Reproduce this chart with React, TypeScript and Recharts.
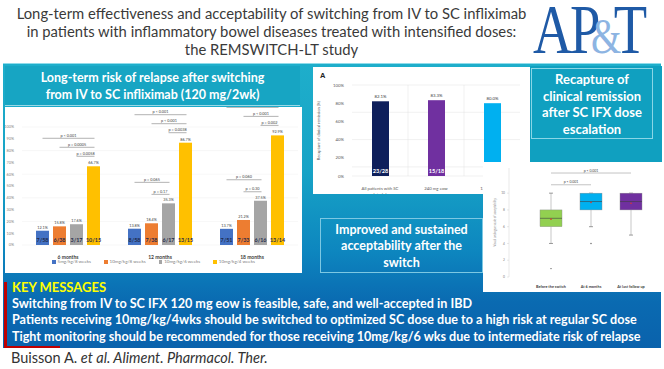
import React from 'react';
import {
  BarChart, Bar, XAxis, YAxis, CartesianGrid, LabelList, Cell,
  ComposedChart, Scatter, ReferenceLine, Label,
} from 'recharts';

// ---- left panel: relapse after switching ----
const relapseGroups = ['6 months', '12 months', '18 months'];
const relapseNames = ['5mg/kg/8 weeks', '10mg/kg/8 weeks', '10mg/kg/6 weeks', '10mg/kg/4 weeks'];
const relapse5q8 = [12.1, 13.8, 13.7];
const relapse10q8 = [15.8, 18.4, 21.2];
const relapse10q6 = [17.6, 35.3, 37.5];
const relapse10q4 = [66.7, 86.7, 92.9];
const frac5q8 = ['7/58', '8/58', '7/51'];
const frac10q8 = ['6/38', '7/38', '7/33'];
const frac10q6 = ['3/17', '6/17', '6/16'];
const frac10q4 = ['10/15', '13/15', '13/14'];
// p values vs 10mg/kg/4 weeks (from 5q8, 10q8, 10q6)
const pVsQ4 = [
  ['p < 0.001', 'p = 0.0005', 'p = 0.0058'],
  ['p < 0.001', 'p < 0.001', 'p = 0.0038'],
  ['p < 0.001', 'p < 0.001', 'p = 0.002'],
];
// p values vs 10mg/kg/6 weeks (from 5q8, 10q8)
const pVsQ6 = [null, ['p = 0.065', 'p = 0.17'], ['p = 0.060', 'p = 0.30']];
const relapseTicks = [0, 10, 20, 30, 40, 50, 60, 70, 80, 90, 100];

// ---- middle panel: recapture of remission ----
const recapCats = ['All patients with SC escalated doses', '240 mg eow', '120 mg eow'];
const recapValues = [82.1, 83.3, 80.0];
const recapFrac = ['23/28', '15/18', '8/10'];

// ---- right panel: acceptability box plot ----
const boxCats = ['Before the switch', 'At 6 months', 'At last follow up'];
const boxMin = [4, 6, 5];
const boxQ1 = [6, 8, 8];
const boxMedian = [7, 9, 9];
const boxQ3 = [8, 10, 10];
const boxMax = [10, 10, 10];
const boxMean = [6.9, 8.9, 8.8];
const boxOutlier = [1, 4, null];
const boxTicks = [0, 1, 2, 3, 4, 5, 6, 7, 8, 9, 10];

const relapseColors = ['#4472C4', '#ED7D31', '#A5A5A5', '#FFC000'];
const recapColors = ['#0E1F5B', '#7030A0', '#00B0F0'];
const boxColors = ['#92D050', '#00B0F0', '#7030A0'];
const BAR_GAP = 4;

const relapseSeries = [relapse5q8, relapse10q8, relapse10q6, relapse10q4];
const relapseFrac = [frac5q8, frac10q8, frac10q6, frac10q4];
const relapseData = relapseGroups.map((g, i) => ({
  group: g, s0: relapse5q8[i], s1: relapse10q8[i], s2: relapse10q6[i], s3: relapse10q4[i],
}));
const recapData = recapCats.map((c, i) => ({ cat: c, value: recapValues[i], frac: recapFrac[i] }));
const boxData = boxCats.map((c, i) => ({
  cat: c, min: boxMin[i], q1: boxQ1[i], median: boxMedian[i], q3: boxQ3[i], max: boxMax[i],
  mean: boxMean[i], outlier: boxOutlier[i],
}));

const Bracket = ({ x1, x2, y, text }: any) => (
  <g>
    <line x1={x1} x2={x2} y1={y} y2={y} stroke="#7f7f7f" strokeWidth={0.6} />
    <text x={(x1 + x2) / 2} y={y - 1.5} textAnchor="middle" fontSize={3.8} fill="#404040">{text}</text>
  </g>
);

const relapseShape = (k: number) => (props: any) => {
  const { x, y, width, height, payload } = props;
  const i = relapseGroups.indexOf(payload.group);
  const extra: any[] = [];
  if (k === 3) {
    const base = y + height;
    const step = width + BAR_GAP;
    const cx = (s: number) => x + width / 2 - (3 - s) * step;
    const topOf = (s: number) => base - (height * relapseSeries[s][i]) / relapseSeries[3][i];
    pVsQ4[i].forEach((t, s) => {
      extra.push(<Bracket key={'a' + s} x1={cx(s)} x2={cx(3) + 1} y={y - 10 - (2 - s) * 9} text={t} />);
    });
    const low = pVsQ6[i];
    if (low) {
      low.forEach((t, s) => {
        extra.push(<Bracket key={'b' + s} x1={cx(s)} x2={cx(2) + 1} y={topOf(2) - 9 - (1 - s) * 12} text={t} />);
      });
    }
  }
  return (
    <g>
      <rect x={x} y={y} width={width} height={height} fill={relapseColors[k]} />
      <text x={x + width / 2} y={y + height - 3} textAnchor="middle" fontSize={5.4} fontWeight="bold" fill="#1F2A4A">
        {relapseFrac[k][i]}
      </text>
      {extra}
    </g>
  );
};

const GroupTick = (props: any) => {
  const { x, y, payload } = props;
  return (
    <text x={x} y={y + 6} textAnchor="middle" fontSize={5} fontWeight="bold" fill="#404040">
      {payload.value}
    </text>
  );
};

const recapShape = (props: any) => {
  const { x, y, width, height, payload } = props;
  const i = recapCats.indexOf(payload.cat);
  return (
    <g>
      <rect x={x} y={y} width={width} height={height} fill={recapColors[i]} />
      <text x={x + width / 2} y={y + height - 3} textAnchor="middle" fontSize={5.6} fontWeight="bold" fill="#ffffff">
        {payload.frac}
      </text>
    </g>
  );
};

// wrap long category names onto lines of about 22 characters
const wrapWords = (s: string, max: number) => {
  const lines: string[] = [];
  let cur = '';
  s.split(' ').forEach((w) => {
    if (cur && (cur + ' ' + w).length > max) { lines.push(cur); cur = w; } else { cur = cur ? cur + ' ' + w : w; }
  });
  if (cur) lines.push(cur);
  return lines;
};

const RecapTick = (props: any) => {
  const { x, y, payload } = props;
  return (
    <text x={x} y={y + 6} textAnchor="middle" fontSize={4.3} fill="#595959">
      {wrapWords(payload.value, 22).map((l, j) => (
        <tspan key={j} x={x} dy={j === 0 ? 0 : 5.5}>{l}</tspan>
      ))}
    </text>
  );
};

const boxShape = (props: any) => {
  const { x, y, width, height, payload } = props;
  const i = boxCats.indexOf(payload.cat);
  const top = Math.min(y, y + height);
  const bottom = Math.max(y, y + height);
  const py = (v: number) => top + ((bottom - top) * (payload.max - v)) / (payload.max - payload.min);
  const cx = x + width / 2;
  return (
    <g>
      <line x1={cx} x2={cx} y1={py(payload.max)} y2={py(payload.q3)} stroke="#8c8c8c" strokeWidth={0.5} />
      <line x1={cx} x2={cx} y1={py(payload.q1)} y2={py(payload.min)} stroke="#8c8c8c" strokeWidth={0.5} />
      <line x1={cx - 2} x2={cx + 2} y1={py(payload.max)} y2={py(payload.max)} stroke="#595959" strokeWidth={0.6} />
      <line x1={cx - 2} x2={cx + 2} y1={py(payload.min)} y2={py(payload.min)} stroke="#595959" strokeWidth={0.6} />
      <rect x={x} y={py(payload.q3)} width={width} height={py(payload.q1) - py(payload.q3)} fill={boxColors[i]} stroke="#8c8c8c" strokeWidth={0.4} />
      <line x1={x} x2={x + width} y1={py(payload.median)} y2={py(payload.median)} stroke="#404040" strokeWidth={0.6} />
    </g>
  );
};

const dotShape = (color: string, r: number, key: 'outlier' | 'mean') => (props: any) => {
  if (props.payload[key] == null) return <g />;
  return <circle cx={props.cx} cy={props.cy} r={r} fill={color} />;
};

const panelTitle: React.CSSProperties = {
  position: 'absolute', color: '#fff', fontWeight: 700, textAlign: 'center',
  fontFamily: 'Lato, sans-serif',
};

export default function App() {
  return (
    <div style={{
      position: 'absolute', left: 0, top: 0, width: 664, height: 369, overflow: 'hidden',
      background: '#fff', fontFamily: 'Lato, sans-serif',
    }}>
      {/* header */}
      <div style={{
        position: 'absolute', left: 0, top: 4, width: 543, textAlign: 'center', fontSize: 14.8,
        lineHeight: '18px', color: '#3a3a3a', whiteSpace: 'nowrap',
      }}>
        <div>Long-term effectiveness and acceptability of switching from IV to SC infliximab</div>
        <div>in patients with inflammatory bowel diseases treated with intensified doses:</div>
        <div>the REMSWITCH-LT study</div>
      </div>
      <div style={{
        position: 'absolute', left: 533, top: 2, fontFamily: '"Liberation Serif", serif', fontSize: 70,
        lineHeight: '56px', color: '#1F5AA6', whiteSpace: 'nowrap', letterSpacing: -3,
        transform: 'scaleX(0.78)', transformOrigin: 'left top',
      }}>
        A<span style={{ marginRight: -9 }}>P</span><span style={{ color: '#8DB4E2', fontSize: 50, marginRight: -7 }}>&amp;</span>T
      </div>

      {/* blue background */}
      <div style={{
        position: 'absolute', left: 3, top: 63, width: 658, height: 284,
        background: 'linear-gradient(180deg, #1eaecb 0%, #17a3c6 38%, #0d86bf 66%, #0a6ab1 84%, #0a62ac 100%)',
        borderTop: '1.5px solid #8fdbea',
      }} />

      {/* left panel */}
      <div style={{ ...panelTitle, left: 5, top: 66, width: 295, height: 40, background: '#17a5c3', fontSize: 12.5, lineHeight: '17px', paddingTop: 3, boxSizing: 'border-box', borderBottom: '1px solid #9ad9e6' }}>
        Long-term risk of relapse after switching<br />from IV to SC infliximab (120 mg/2wk)
      </div>
      <div style={{ position: 'absolute', left: 5, top: 107, width: 297, height: 166, background: '#fff' }}>
        <BarChart width={297} height={166} data={relapseData} margin={{ top: 20, right: 4, bottom: 17, left: 0 }}
          barSize={13} barGap={BAR_GAP}>
          <CartesianGrid vertical={false} stroke="#eeeeee" strokeWidth={0.5} />
          <XAxis dataKey="group" axisLine={false} tickLine={false} height={11} interval={0} tick={<GroupTick />} />
          <YAxis domain={[0, 100]} ticks={relapseTicks} width={17} axisLine={false} tickLine={false}
            tickFormatter={(v: number) => `${v}%`} tick={{ fontSize: 3.8, fill: '#7f7f7f' }} />
          {relapseNames.map((n, k) => (
            <Bar key={n} name={n} dataKey={'s' + k} fill={relapseColors[k]} shape={relapseShape(k)} isAnimationActive={false}>
              <LabelList dataKey={'s' + k} position="top" offset={2} fontSize={3.8} fill="#404040"
                formatter={(v: any) => `${Number(v).toFixed(1)}%`} />
            </Bar>
          ))}
        </BarChart>
        <div style={{
          position: 'absolute', left: 0, top: 152, width: 297, display: 'flex', justifyContent: 'center',
          gap: 13, fontSize: 4.5, lineHeight: '6px', color: '#7f7f7f',
        }}>
          {relapseNames.map((n, k) => (
            <span key={n} style={{ display: 'flex', alignItems: 'center', gap: 2 }}>
              <span style={{ width: 3.5, height: 3.5, background: relapseColors[k], display: 'inline-block' }} />
              {n}
            </span>
          ))}
        </div>
      </div>

      {/* middle panel */}
      <div style={{ position: 'absolute', left: 313, top: 67, width: 217, height: 127, background: '#fff' }}>
        <div style={{ position: 'absolute', left: 7, top: 4, fontSize: 7.5, fontWeight: 700, color: '#222', fontFamily: 'Arial, sans-serif' }}>A</div>
        <BarChart width={217} height={127} data={recapData} margin={{ top: 18, right: 10, bottom: 0, left: 0 }} barSize={17}>
          <CartesianGrid stroke="#e3e3e3" strokeWidth={0.5}
            verticalCoordinatesGenerator={({ offset }: any) => [offset.left + offset.width / 3, offset.left + (2 * offset.width) / 3]} />
          <XAxis dataKey="cat" axisLine={false} tickLine={false} height={18} interval={0} tick={<RecapTick />} />
          <YAxis domain={[0, 100]} ticks={relapseTicks} width={39} axisLine={false} tickLine={false}
            tickFormatter={(v: number) => `${v}%`} tick={{ fontSize: 4.3, fill: '#595959' }}>
            <Label value="Recapture of clinical remission (%)" angle={-90} position="insideLeft" offset={6} fontSize={4} fill="#595959" style={{ textAnchor: 'middle' }} />
          </YAxis>
          <Bar dataKey="value" shape={recapShape} isAnimationActive={false}>
            {recapData.map((d, i) => <Cell key={d.cat} fill={recapColors[i]} />)}
            <LabelList dataKey="value" position="top" offset={3} fontSize={4.3} fill="#404040"
              formatter={(v: any) => `${Number(v).toFixed(1)}%`} />
          </Bar>
        </BarChart>
      </div>

      {/* recapture title */}
      <div style={{ position: 'absolute', left: 530, top: 66, width: 132, height: 96, background: '#10a0c0' }} />
      <div style={{ ...panelTitle, left: 531, top: 68, width: 122, height: 71, border: '1px solid #8ad6e6', boxSizing: 'border-box', fontSize: 13, lineHeight: '16.5px', paddingTop: 2 }}>
        Recapture of<br />clinical remission<br />after SC IFX dose<br />escalation
      </div>

      {/* box plot panel */}
      <div style={{ position: 'absolute', left: 483, top: 162, width: 181, height: 130, background: '#fff' }}>
        <ComposedChart width={181} height={130} data={boxData} margin={{ top: 6, right: 13, bottom: 0, left: 0 }} barSize={22}>
          <XAxis dataKey="cat" axisLine={false} tickLine={false} height={15} padding={{ left: 22, right: 0 }}
            tick={{ fontSize: 3.8, fontWeight: 700, fill: '#404040' }} tickMargin={2} />
          <YAxis domain={[0, 13]} ticks={boxTicks} width={26} axisLine={{ stroke: '#d0d0d0', strokeWidth: 0.5 }}
            tickLine={{ stroke: '#d0d0d0', strokeWidth: 0.5 }} tickSize={2} tick={{ fontSize: 3.3, fill: '#7f7f7f' }}>
            <Label value="Visual analogue scale of acceptability" angle={-90} position="insideLeft" offset={12} fontSize={3} fill="#7f7f7f" style={{ textAnchor: 'middle' }} />
          </YAxis>
          <Bar dataKey={(d: any) => [d.min, d.max]} shape={boxShape} isAnimationActive={false} />
          <Scatter dataKey="outlier" shape={dotShape('#595959', 0.7, 'outlier')} isAnimationActive={false} />
          <Scatter dataKey="mean" shape={dotShape('#E0352B', 0.8, 'mean')} isAnimationActive={false} />
          <ReferenceLine segment={[{ x: boxCats[0], y: 11 }, { x: boxCats[1], y: 11 }]} stroke="#9a9a9a" strokeWidth={0.6} ifOverflow="visible">
            <Label value="p < 0.001" position="top" offset={1.5} fontSize={3.5} fill="#404040" />
          </ReferenceLine>
          <ReferenceLine segment={[{ x: boxCats[0], y: 12.4 }, { x: boxCats[2], y: 12.4 }]} stroke="#9a9a9a" strokeWidth={0.6} ifOverflow="visible">
            <Label value="p < 0.001" position="top" offset={1.5} fontSize={3.5} fill="#404040" />
          </ReferenceLine>
        </ComposedChart>
      </div>

      {/* acceptability box */}
      <div style={{ ...panelTitle, left: 320, top: 218, width: 163, height: 55, border: '1px solid #7cc8e3', boxSizing: 'border-box', fontSize: 12.5, lineHeight: '16.5px', paddingTop: 2.5 }}>
        Improved and sustained<br />acceptability after the<br />switch
      </div>

      {/* key messages */}
      <div style={{ position: 'absolute', left: 4, top: 282, width: 3, height: 66, background: '#C00000' }} />
      <div style={{ position: 'absolute', left: 4, top: 346, width: 56, height: 2, background: '#C00000' }} />
      <div style={{ position: 'absolute', left: 12, top: 279, fontSize: 12.6, lineHeight: '16.5px', fontWeight: 700, color: '#fff', whiteSpace: 'nowrap' }}>
        <div style={{ color: '#FFFF00', fontSize: 13 }}>KEY MESSAGES</div>
        <div>Switching from IV to SC IFX 120 mg eow is feasible, safe, and well-accepted in IBD</div>
        <div>Patients receiving 10mg/kg/4wks should be switched to optimized SC dose due to a high risk at regular SC dose</div>
        <div>Tight monitoring should be recommended for those receiving 10mg/kg/6 wks due to intermediate risk of relapse</div>
      </div>

      {/* citation */}
      <div style={{ position: 'absolute', left: 11, top: 350, fontSize: 14.5, lineHeight: '16px', color: '#333' }}>
        Buisson A. <i>et al. Aliment. Pharmacol. Ther.</i>
      </div>
    </div>
  );
}
